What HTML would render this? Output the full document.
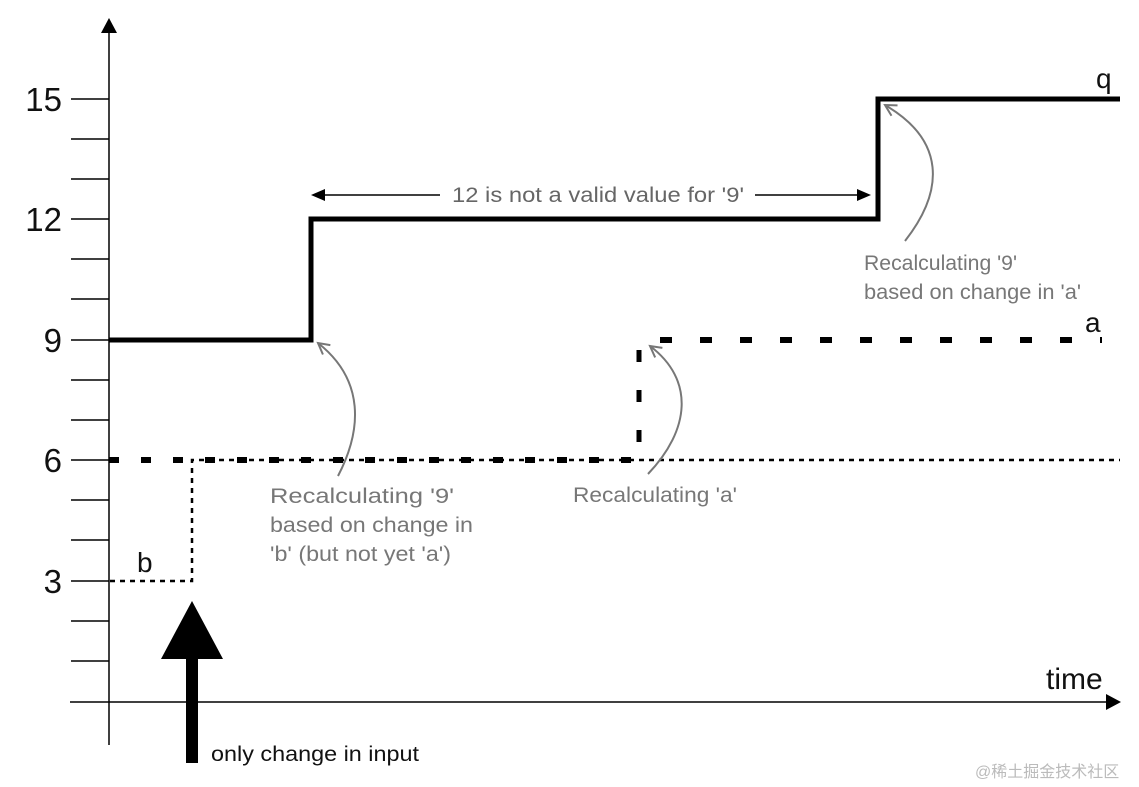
<!DOCTYPE html>
<html><head><meta charset="utf-8"><style>html,body{margin:0;padding:0;background:#fff}svg{display:block}</style></head>
<body>
<svg width="1139" height="787" viewBox="0 0 1139 787" xmlns="http://www.w3.org/2000/svg" font-family="'Liberation Sans', sans-serif">
<defs>
<marker id="ga" markerWidth="16" markerHeight="16" refX="13" refY="8" orient="auto" markerUnits="userSpaceOnUse">
<path d="M2,2 L13,8 L2,14" fill="none" stroke="#777" stroke-width="2"/>
</marker>
</defs>
<!-- axes -->
<line x1="109" y1="30" x2="109" y2="745" stroke="#000" stroke-width="1.5"/>
<polygon points="109,18 101,33 117,33" fill="#000"/>
<line x1="70" y1="702" x2="1108" y2="702" stroke="#000" stroke-width="1.5"/>
<polygon points="1121,702 1106,694 1106,710" fill="#000"/>
<g stroke="#000" stroke-width="1.5">
<line x1="71" y1="99" x2="109" y2="99"/><line x1="71" y1="139" x2="109" y2="139"/><line x1="71" y1="179" x2="109" y2="179"/>
<line x1="71" y1="219" x2="109" y2="219"/><line x1="71" y1="259" x2="109" y2="259"/><line x1="71" y1="299" x2="109" y2="299"/>
<line x1="71" y1="340" x2="109" y2="340"/><line x1="71" y1="380" x2="109" y2="380"/><line x1="71" y1="420" x2="109" y2="420"/>
<line x1="71" y1="460" x2="109" y2="460"/><line x1="71" y1="500" x2="109" y2="500"/><line x1="71" y1="540" x2="109" y2="540"/>
<line x1="71" y1="581" x2="109" y2="581"/><line x1="71" y1="621" x2="109" y2="621"/><line x1="71" y1="661" x2="109" y2="661"/>
</g>
<g font-size="33" fill="#111" text-anchor="end">
<text x="62" y="111">15</text><text x="62" y="231">12</text><text x="62" y="352">9</text><text x="62" y="472">6</text><text x="62" y="593">3</text>
</g>
<!-- q -->
<polyline points="109,340 311,340 311,219 878,219 878,99 1120,99" fill="none" stroke="#000" stroke-width="5"/>
<!-- b dotted -->
<polyline points="110,581 192,581 192,460 1120,460" fill="none" stroke="#000" stroke-width="2.5" stroke-dasharray="5,5"/>
<!-- a thick dashes -->
<line x1="109" y1="460" x2="640" y2="460" stroke="#000" stroke-width="6" stroke-dasharray="10,22"/>
<line x1="639" y1="460" x2="639" y2="340" stroke="#000" stroke-width="5" stroke-dasharray="12,28" stroke-dashoffset="-18"/>
<line x1="660" y1="340" x2="1102" y2="340" stroke="#000" stroke-width="6" stroke-dasharray="12,28"/>
<!-- labels -->
<g font-size="28" fill="#111"><text x="1096" y="88">q</text><text x="1085" y="332">a</text><text x="137" y="572">b</text><text x="1046" y="689" font-size="30">time</text></g>
<!-- 12 double arrow -->
<line x1="322" y1="195" x2="440" y2="195" stroke="#000" stroke-width="1.5"/>
<line x1="755" y1="195" x2="860" y2="195" stroke="#000" stroke-width="1.5"/>
<polygon points="311,195 325,189 325,201" fill="#000"/>
<polygon points="871,195 857,189 857,201" fill="#000"/>
<text x="452" y="202" font-size="21" fill="#666" textLength="292" lengthAdjust="spacingAndGlyphs">12 is not a valid value for '9'</text>
<!-- big arrow -->
<rect x="186" y="655" width="12" height="108" fill="#000"/>
<polygon points="192,601 161,659 223,659" fill="#000"/>
<text x="211" y="761" font-size="21" fill="#111" textLength="208" lengthAdjust="spacingAndGlyphs">only change in input</text>
<!-- gray curved arrows -->
<g fill="none" stroke="#777" stroke-width="2">
<path d="M338,476 C362,430 365,380 318,343" marker-end="url(#ga)"/>
<path d="M648,474 C690,430 695,380 650,346" marker-end="url(#ga)"/>
<path d="M905,241 C945,190 945,140 885,105" marker-end="url(#ga)"/>
</g>
<g font-size="21" fill="#777">
<text x="270" y="503" textLength="184" lengthAdjust="spacingAndGlyphs">Recalculating '9'</text>
<text x="270" y="532" textLength="203" lengthAdjust="spacingAndGlyphs">based on change in</text>
<text x="270" y="561" textLength="181" lengthAdjust="spacingAndGlyphs">'b' (but not yet 'a')</text>
<text x="573" y="502" textLength="164" lengthAdjust="spacingAndGlyphs">Recalculating 'a'</text>
<text x="864" y="270" textLength="153" lengthAdjust="spacingAndGlyphs">Recalculating '9'</text>
<text x="864" y="299" textLength="217" lengthAdjust="spacingAndGlyphs">based on change in 'a'</text>
</g>
<text x="975" y="777" font-size="16" fill="#bbb" font-family="'Liberation Sans','Noto Sans CJK SC',sans-serif">@稀土掘金技术社区</text>
</svg>
</body></html>
